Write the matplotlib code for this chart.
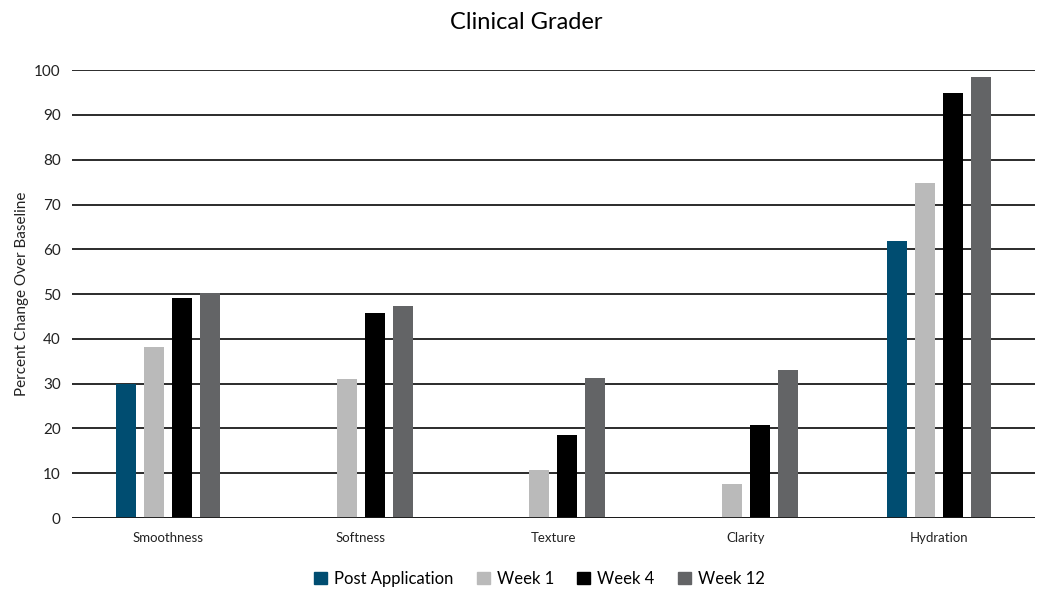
import numpy as np
import matplotlib
matplotlib.use("Agg")
import matplotlib.pyplot as plt
from matplotlib.patches import Patch

plt.rcParams['font.family'] = ['Lato', 'DejaVu Sans']

# data
categories = ["Smoothness", "Softness", "Texture", "Clarity", "Hydration"]
series = ["Post Application", "Week 1", "Week 4", "Week 12"]
post_app = [30.0, 0, 0, 0, 61.8]
week1 = [38.2, 31.0, 10.7, 7.6, 74.8]
week4 = [49.1, 45.8, 18.5, 20.8, 94.9]
week12 = [50.3, 47.4, 31.3, 33.0, 98.5]
colors = ["#004d71", "#bababa", "#000000", "#636466"]

fig = plt.figure(figsize=(10.37, 5.9), dpi=100)
ax = fig.add_axes([0.0694, 0.122, 0.9286, 0.759])

x = np.arange(len(categories))
w = 0.104
step = 0.145
for i, vals in enumerate([post_app, week1, week4, week12]):
    ax.bar(x + (i - 1.5) * step, vals, width=w, color=colors[i], zorder=3)

ax.set_ylim(0, 100)
ax.set_xlim(-0.5, 4.5)
ax.set_yticks(range(0, 101, 10))
ax.yaxis.grid(True, color="#1a1a1a", linewidth=1.3, zorder=0)
ax.tick_params(axis="y", length=0, pad=8, labelsize=11, colors="#222222")
ax.tick_params(axis="x", length=0, pad=10, labelsize=9.5, colors="#222222")
ax.set_xticks(x)
ax.set_xticklabels(categories)
for s in ax.spines.values():
    s.set_visible(False)
ax.axhline(0, color="#1a1a1a", linewidth=1.3, zorder=4)

ax.set_ylabel("Percent Change Over Baseline", fontsize=11, color="#222222", labelpad=4)
fig.suptitle("Clinical Grader", fontsize=17, y=0.98, x=0.507)

handles = [Patch(color=c) for c in colors]
fig.legend(handles, series, loc="lower center", bbox_to_anchor=(0.52, -0.02), ncol=4,
           frameon=False, fontsize=12, handlelength=0.8, handleheight=0.8,
           handletextpad=0.4, columnspacing=1.4)

fig.savefig("out.png", dpi=100)
